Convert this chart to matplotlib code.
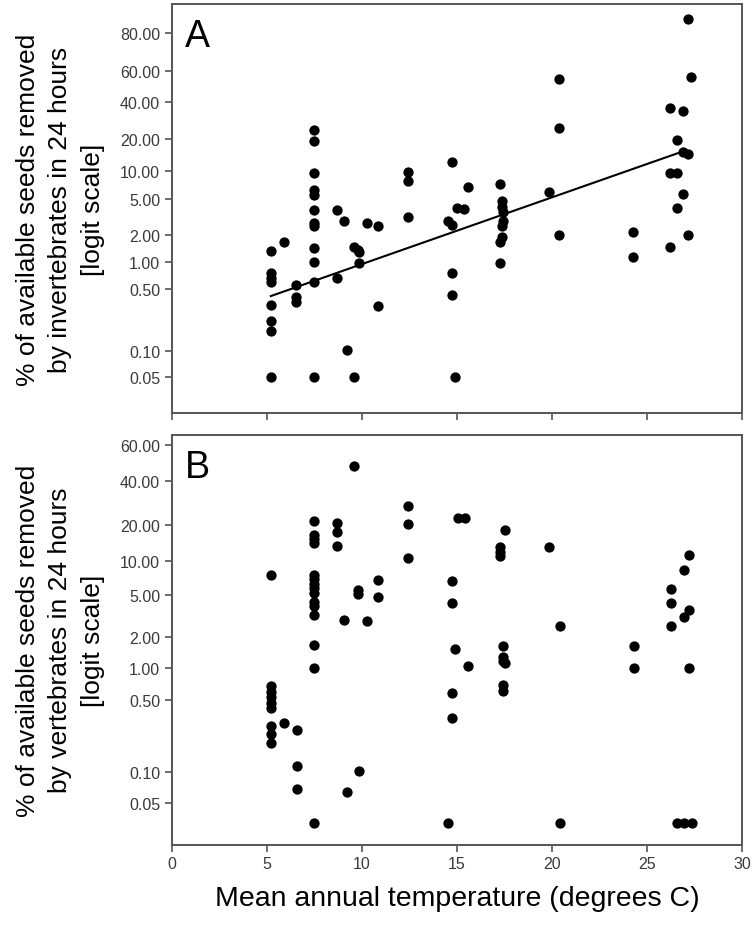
import numpy as np
import matplotlib
matplotlib.use("Agg")
import matplotlib.pyplot as plt
from matplotlib.ticker import FixedLocator, NullLocator, FuncFormatter

plt.rcParams["font.family"] = ["Liberation Sans", "DejaVu Sans"]

# Panel A: seeds removed by invertebrates (% , logit scale)
inv_temp = [
    5.2, 5.2, 5.2, 5.2, 5.2, 5.2, 5.2, 5.2,
    5.9,
    6.55, 6.55, 6.55,
    7.47, 7.47, 7.47, 7.47, 7.47, 7.47, 7.47, 7.47, 7.47, 7.47, 7.47, 7.47,
    8.7, 8.7,
    9.05, 9.19,
    9.59, 9.59, 9.81, 9.86, 9.86,
    10.26,
    10.84, 10.84,
    12.42, 12.42, 12.42,
    14.54,
    14.72, 14.72, 14.72, 14.72,
    14.87, 15.02, 15.37, 15.56,
    17.26, 17.26, 17.26,
    17.35, 17.35, 17.35, 17.35,
    17.44, 17.44,
    19.84,
    20.35, 20.35, 20.35,
    24.25, 24.25,
    26.21, 26.21, 26.21,
    26.56, 26.56, 26.56,
    26.91, 26.91, 26.91,
    27.16, 27.16, 27.16,
    27.33,
]
inv_pct = [
    1.35, 0.757, 0.66, 0.595, 0.33, 0.219, 0.166, 0.05,
    1.67,
    0.56, 0.41, 0.36,
    24.2, 19.5, 9.36, 6.3, 5.5, 3.83, 2.74, 2.52, 1.44, 1.02, 0.6, 0.05,
    3.8, 0.66,
    2.85, 0.103,
    1.47, 0.05, 1.38, 1.29, 0.97,
    2.74,
    2.56, 0.324,
    9.58, 7.84, 3.16,
    2.85,
    12.1, 2.6, 0.757, 0.428,
    0.05, 3.97, 3.9, 6.68,
    7.24, 1.67, 0.97,
    4.8, 4.07, 2.56, 1.9,
    3.6, 2.85,
    6.0,
    54.8, 25.1, 2.02,
    2.19, 1.14,
    36.2, 9.42, 1.49,
    19.8, 9.42, 4.03,
    34.6, 15.4, 5.62,
    85.5, 14.5, 2.02,
    56.3,
]

# regression line for panel A (logit of proportion vs temperature)
fit_x = [5.2, 26.7]
fit_intercept = -6.384
fit_slope = 0.1743

# Panel B: seeds removed by vertebrates
vert_temp = [
    5.19, 5.19, 5.19, 5.19, 5.19, 5.19, 5.19, 5.19, 5.19,
    5.91,
    6.56, 6.56, 6.56,
    7.47, 7.47, 7.47, 7.47, 7.47, 7.47, 7.47, 7.47, 7.47, 7.47, 7.47, 7.47,
    7.47, 7.47, 7.47,
    8.7, 8.7, 8.7,
    9.05, 9.19, 9.59, 9.84, 9.81, 9.81, 10.26,
    10.85, 10.85,
    12.42, 12.42, 12.42,
    14.54,
    14.72, 14.72, 14.72, 14.72,
    14.9, 15.05, 15.4, 15.6,
    17.26, 17.26, 17.26,
    17.5, 17.5,
    17.4, 17.4, 17.4, 17.4, 17.4,
    19.86,
    20.42, 20.42,
    24.3, 24.3,
    26.25, 26.25, 26.25,
    26.95, 26.95,
    27.2, 27.2, 27.2,
    26.56, 26.96, 27.38,
]
vert_pct = [
    7.54, 0.673, 0.6, 0.53, 0.47, 0.413, 0.281, 0.233, 0.19,
    0.296,
    0.257, 0.113, 0.068,
    21.5, 16.6, 15.4, 14.3, 7.6, 7.0, 6.3, 5.7, 5.2, 4.3, 3.9, 3.2,
    1.68, 1.02, 0.032,
    20.6, 17.5, 13.4,
    2.9, 0.0635, 48.1, 0.102, 5.55, 5.06, 2.82,
    6.84, 4.72,
    27.4, 20.3, 10.6,
    0.032,
    6.62, 4.2, 0.577, 0.334,
    1.54, 22.4, 22.4, 1.06,
    13.1, 11.9, 11.0,
    18.2, 1.12,
    1.63, 1.28, 1.19, 0.693, 0.61,
    13.1,
    2.56, 0.032,
    1.63, 1.02,
    5.66, 4.15, 2.56,
    8.35, 3.07,
    11.2, 3.6, 1.02,
    0.032, 0.032, 0.032,
]

ticks_a = [0.05, 0.1, 0.5, 1, 2, 5, 10, 20, 40, 60, 80]
ticks_b = [0.05, 0.1, 0.5, 1, 2, 5, 10, 20, 40, 60]
x_ticks = [0, 5, 10, 15, 20, 25, 30]


def logit_pct(p):
    p = np.clip(np.asarray(p, dtype=float), 1e-9, 100 - 1e-9)
    return np.log(p / (100.0 - p))


def inv_logit_pct(z):
    return 100.0 / (1.0 + np.exp(-np.asarray(z, dtype=float)))


def style_axis(ax, yticks, ylim):
    ax.set_yscale("function", functions=(logit_pct, inv_logit_pct))
    ax.set_ylim(*ylim)
    ax.set_xlim(0, 30)
    ax.yaxis.set_major_locator(FixedLocator(yticks))
    ax.yaxis.set_minor_locator(NullLocator())
    ax.yaxis.set_major_formatter(FuncFormatter(lambda v, pos: f"{v:.2f}"))
    ax.xaxis.set_major_locator(FixedLocator(x_ticks))
    ax.tick_params(direction="out", length=5, width=1.2, color="#555555",
                   labelsize=11.5, labelcolor="#3a3a3a")
    for spine in ax.spines.values():
        spine.set_color("#555555")
        spine.set_linewidth(1.4)


fig = plt.figure(figsize=(7.55, 9.28), dpi=100)
ax_a = fig.add_axes([0.2278, 0.5539, 0.755, 0.4407])
ax_b = fig.add_axes([0.2278, 0.0887, 0.755, 0.4418])

ax_a.scatter(inv_temp, inv_pct, s=55, color="black", zorder=3, linewidths=0)
line_x = np.array(fit_x)
ax_a.plot(line_x, inv_logit_pct(fit_intercept + fit_slope * line_x),
          color="black", lw=1.5, zorder=2)
style_axis(ax_a, ticks_a, (0.0197, 89.6))
ax_a.set_xticklabels([])
ax_a.text(0.022, 0.965, "A", transform=ax_a.transAxes, fontsize=27,
          va="top", ha="left")
ax_a.set_ylabel("% of available seeds removed\nby invertebrates in 24 hours\n[logit scale]",
                fontsize=19, labelpad=11, linespacing=1.45)

ax_b.scatter(vert_temp, vert_pct, s=55, color="black", zorder=3, linewidths=0)
style_axis(ax_b, ticks_b, (0.0197, 65.2))
ax_b.text(0.022, 0.965, "B", transform=ax_b.transAxes, fontsize=27,
          va="top", ha="left")
ax_b.set_ylabel("% of available seeds removed\nby vertebrates in 24 hours\n[logit scale]",
                fontsize=19, labelpad=11, linespacing=1.45)
ax_b.set_xlabel("Mean annual temperature (degrees C)", fontsize=20.5, labelpad=10)

fig.savefig("out.png", dpi=100)
